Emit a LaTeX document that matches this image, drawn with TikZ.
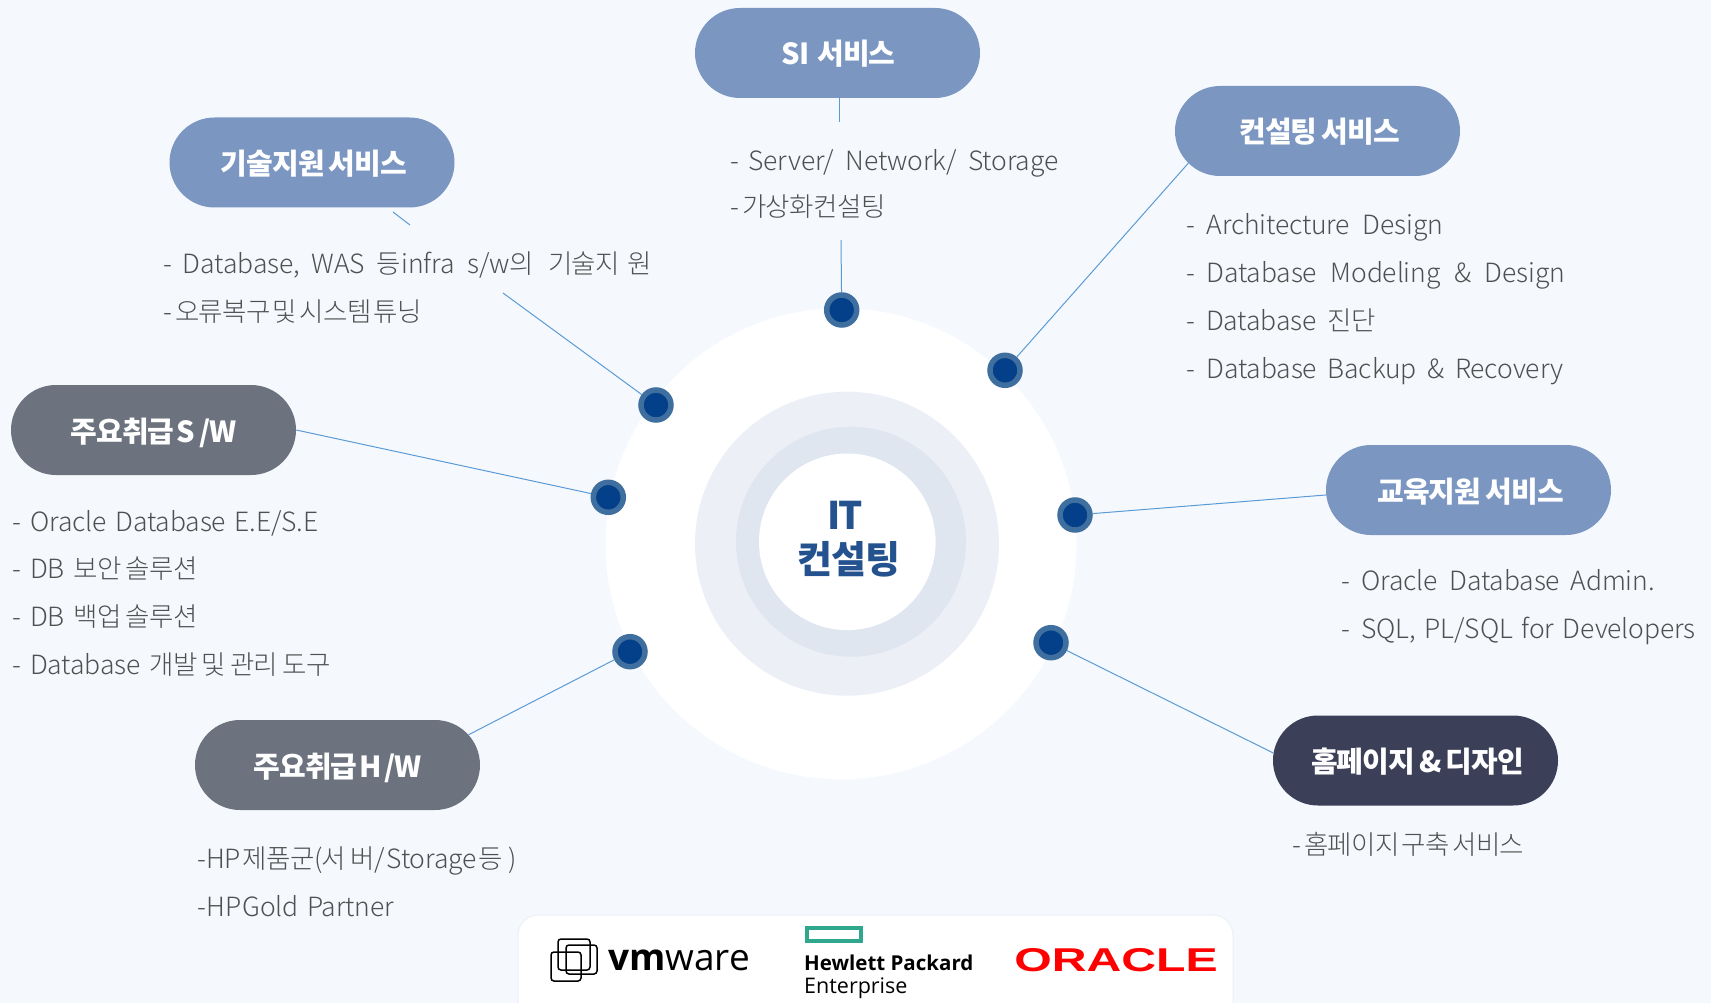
\documentclass[tikz,border=0pt]{standalone}
\usepackage{fontspec}
\usetikzlibrary{shapes.misc}
\setmainfont{Noto Sans CJK KR}
\newfontfamily\bodyf[LetterSpace=-2,WordSpace=0.75]{Noto Sans CJK KR Light}
\newfontfamily\latf[LetterSpace=-0.5,WordSpace=0.75]{Noto Sans CJK KR Light}
\newfontfamily\titlef[LetterSpace=-3,WordSpace=0.7]{Noto Sans CJK KR}
\newfontfamily\logof{Open Sans}
\newfontfamily\orf{Liberation Sans}
\newcommand{\gp}[1]{~\kern#1pt }
\definecolor{bgc}{HTML}{F5F9FE}
\definecolor{pillblue}{HTML}{7B96C1}
\definecolor{pillgrey}{HTML}{6C727E}
\definecolor{pilldark}{HTML}{3B3F58}
\definecolor{linec}{HTML}{5B9BD5}
\definecolor{dotout}{HTML}{3F6F9F}
\definecolor{dotin}{HTML}{04408A}
\definecolor{ringa}{HTML}{ECF0F6}
\definecolor{ringb}{HTML}{DFE6F0}
\definecolor{txt}{HTML}{505050}
\definecolor{centre}{HTML}{24528F}
\definecolor{hpgreen}{HTML}{2FA78C}
\tikzset{
 x=1pt,y=-1pt,
 pill/.style={rounded rectangle,minimum width=285pt,minimum height=90pt,inner sep=0pt,text=white,
   text height=26pt,text depth=2pt,
   font=\titlef\bfseries\fontsize{29}{29}\selectfont},
 bluepill/.style={pill,fill=pillblue},
 greypill/.style={pill,fill=pillgrey},
 darkpill/.style={pill,fill=pilldark},
 item/.style={anchor=west,inner sep=0pt,text=txt,text height=24pt,text depth=3.4pt,
   font=\bodyf\fontsize{26.5}{26.5}\selectfont},
 dotn/.style={circle,draw=dotout,line width=5.5pt,fill=dotin,minimum size=30pt,inner sep=0pt},
 link/.style={draw=linec,line width=1pt},
}
\begin{document}
\begin{tikzpicture}
\useasboundingbox (0,0) rectangle (1711,1003);
\fill[bgc] (0,0) rectangle (1711,1003);
% rings
\fill[white] (841,543.7) circle[radius=235.5];
\fill[ringa] (847,543.7) circle[radius=152];
\fill[ringb] (851,541.7) circle[radius=115];
\fill[white] (847.3,541.8) circle[radius=88.3];
\node[align=center,text=centre,font=\titlef\bfseries\fontsize{38}{44}\selectfont] (core) at (849,539.5) {I\kern-3pt T\kern8pt\\컨설팅};
% pills
\node[bluepill] (si) at (837.5,53) {\kern2pt SI~ 서비스};
\node[bluepill] (cons) at (1317.5,131) {\kern4pt 컨설팅 서비스};
\node[bluepill] (tech) at (312,162.5) {\kern4pt 기술지원 서비스};
\node[greypill] (sw) at (153.5,430) {주요취급\kern2pt S\kern4pt/W};
\node[bluepill] (edu) at (1468.5,490) {\kern4pt 교육지원 서비스};
\node[greypill] (hw) at (337.5,765) {주요취급\kern2pt H\kern2pt/W};
\node[darkpill] (home) at (1415.5,760.5) {\kern4pt 홈페이지 \& 디자인};
% dots
\node[dotn] (d1) at (841.7,310) {};
\node[dotn] (d2) at (1005,370.3) {};
\node[dotn] (d3) at (1075,515) {};
\node[dotn] (d4) at (1051,642.7) {};
\node[dotn] (d5) at (630,651.7) {};
\node[dotn] (d6) at (608.3,497.3) {};
\node[dotn] (d7) at (656,405) {};
% free ends of the broken connectors
\coordinate (siA) at (839,98);
\coordinate (siB) at (839,122);
\coordinate (siC) at (841,240);
\coordinate (teA) at (393,212);
\coordinate (teB) at (410,225);
\coordinate (teC) at (503,293);
% connectors
\draw[link] (siA) -- (siB);
\draw[link] (siC) -- (d1);
\draw[link] (teA) -- (teB);
\draw[link] (teC) -- (d7);
\draw[link] (cons.194) -- (d2);
\draw[link] (edu.182) -- (d3);
\draw[link] (home.177.4) -- (d4);
\draw[link] (hw.13) -- (d5);
\draw[link] (sw.east) -- (d6);
% lists
\node[item] (a1) at (730,160) {\latf -\gp{1} Server/\gp{3} Network/\gp{3} Storage};
\node[item] (a2) at (730,206) {-\kern3pt 가상화컨설팅};
\node[item] (b1) at (163,263) {-\gp{3} {\latf Database,\gp{3} WAS}\gp{4} 등{\latf infra\gp{4} s/w}의\gp{6} 기술지\kern7pt 원};
\node[item] (b2) at (163,311) {-\kern3pt 오류복구\kern-2pt{} 및\kern-2pt{} 시스템\kern-2pt{} 튜닝};
\node[item] (c1) at (1186,224) {\latf -\gp{3} Architecture\gp{4} Design};
\node[item] (c2) at (1186,272) {\latf -\gp{3} Database\gp{5} Modeling\gp{5} \&\gp{5} Design};
\node[item] (c3) at (1186,320) {-\gp{3} {\latf Database}\gp{3} 진단};
\node[item] (c4) at (1186,368) {\latf -\gp{3} Database\gp{2} Backup\gp{2} \&\gp{2} Recovery};
\node[item] (e1) at (1341,580.5) {\latf -\gp{3} Oracle\gp{3} Database\gp{2} Admin.};
\node[item] (e2) at (1341,628.5) {\latf -\gp{3} SQL,\gp{0} PL/SQL\gp{0} for\gp{0} Developers};
\node[item] (s1) at (12,521.6) {\latf -\gp{1} Oracle\gp{0} Database\gp{0} E.E/S.E};
\node[item] (s2) at (12,568.5) {-\gp{1} DB\gp{1} 보안 솔루션};
\node[item] (s3) at (12,616.5) {-\gp{1} DB\gp{1} 백업 솔루션};
\node[item] (s4) at (12,664.5) {-\gp{1} {\latf Database}\gp{1} 개발 및 관리 도구};
\node[item] (h1) at (197.5,858) {-HP\kern2pt 제품군(서\kern4pt 버/\kern2pt{\latf Storage}\kern2pt 등\kern5pt)};
\node[item] (h2) at (197.5,906) {{\latf -HP\kern1pt Gold~ Partner}};
\node[item] (p1) at (1292,844.5) {-\kern3pt 홈페이지\kern-2pt{} 구축\kern-2pt{} 서비스};
% logo card
\fill[white,draw=ringa,line width=1pt,rounded corners=20pt] (518,1030) -- (518,915) -- (1233,915) -- (1233,1030) -- cycle;
\begin{scope}[black,line width=1.5pt,rounded corners=3pt]
\draw (551,952) rectangle (581,981);
\draw (558,939) rectangle (590,970);
\draw (566,945) rectangle (597,974);
\end{scope}
\node[anchor=base west,inner sep=0pt,font=\logof\fontsize{37}{37}\selectfont] (vm) at (608,970) {\textbf{vm}ware};
\draw[hpgreen,line width=3.5pt] (807,928) rectangle (861,941);
\node[anchor=base west,inner sep=0pt,font=\logof\bfseries\fontsize{20.5}{20.5}\selectfont] (hp1) at (804,970) {Hewlett Packard};
\node[anchor=base west,inner sep=0pt,font=\logof\fontsize{21.5}{21.5}\selectfont] (hp2) at (804,993) {Enterprise};
\node[anchor=base west,inner sep=0pt,text=red,xscale=1.46,font=\orf\bfseries\fontsize{33}{33}\selectfont] (or) at (1014,971) {ORACLE};
\end{tikzpicture}
\end{document}
